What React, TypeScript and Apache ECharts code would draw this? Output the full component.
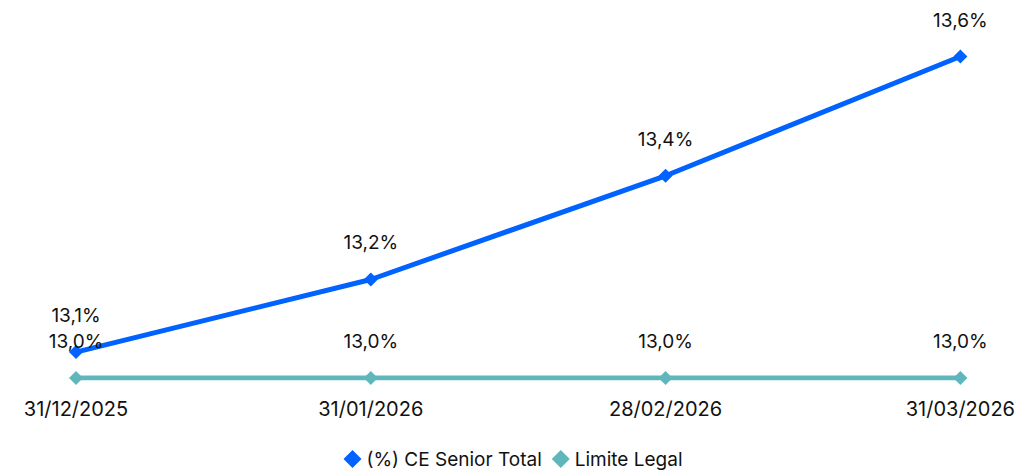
import React, { useEffect, useRef } from "react";
import * as echarts from "echarts";

const categories = ["31/12/2025", "31/01/2026", "28/02/2026", "31/03/2026"];
const ceSeniorTotal = [13.05, 13.19, 13.39, 13.62];
const limiteLegal = [13.0, 13.0, 13.0, 13.0];
const seriesNames = ["(%) CE Senior Total", "Limite Legal"];

const FONT = "Inter, 'Noto Sans', sans-serif";

export default function App() {
  const ref = useRef<HTMLDivElement>(null);
  useEffect(() => {
    if (!ref.current) return;
    document.documentElement.style.overflow = "hidden";
    const chart = echarts.init(ref.current, undefined, { renderer: "svg" });
    const fmt = (p: any) => (p.value as number).toFixed(1).replace(".", ",") + "%";
    chart.setOption({
      animation: false,
      textStyle: { fontFamily: FONT },
      grid: { left: 68, right: 52, top: 33, bottom: 93, containLabel: false },
      legend: {
        top: 436,
        left: "center",
        itemWidth: 18,
        itemHeight: 18,
        itemGap: 10,
        icon: "diamond",
        textStyle: { fontSize: 19, lineHeight: 20, color: "#111", fontFamily: FONT },
        data: seriesNames,
      },
      xAxis: {
        type: "category",
        data: categories,
        boundaryGap: false,
        axisLine: { show: false },
        axisTick: { show: false },
        axisLabel: { fontSize: 20, color: "#111", margin: 21, fontFamily: FONT },
      },
      yAxis: {
        type: "value",
        min: 13.0,
        max: 13.65,
        show: false,
        splitLine: { show: false },
      },
      series: [
        {
          name: seriesNames[0],
          type: "line",
          data: ceSeniorTotal,
          symbol: "diamond",
          symbolSize: 14,
          lineStyle: { width: 5, color: "#0062FF" },
          itemStyle: { color: "#0062FF" },
          label: {
            show: true,
            position: "top",
            distance: 20,
            fontSize: 19,
            color: "#111",
            fontFamily: FONT,
            formatter: fmt,
          },
        },
        {
          name: seriesNames[1],
          type: "line",
          data: limiteLegal,
          symbol: "diamond",
          symbolSize: 14,
          lineStyle: { width: 5, color: "#5FB7BC" },
          itemStyle: { color: "#5FB7BC" },
          label: {
            show: true,
            position: "top",
            distance: 20,
            fontSize: 19,
            color: "#111",
            fontFamily: FONT,
            formatter: fmt,
          },
        },
      ],
    });
    return () => chart.dispose();
  }, []);
  return <div ref={ref} style={{ width: 1010, height: 463 }} />;
}
